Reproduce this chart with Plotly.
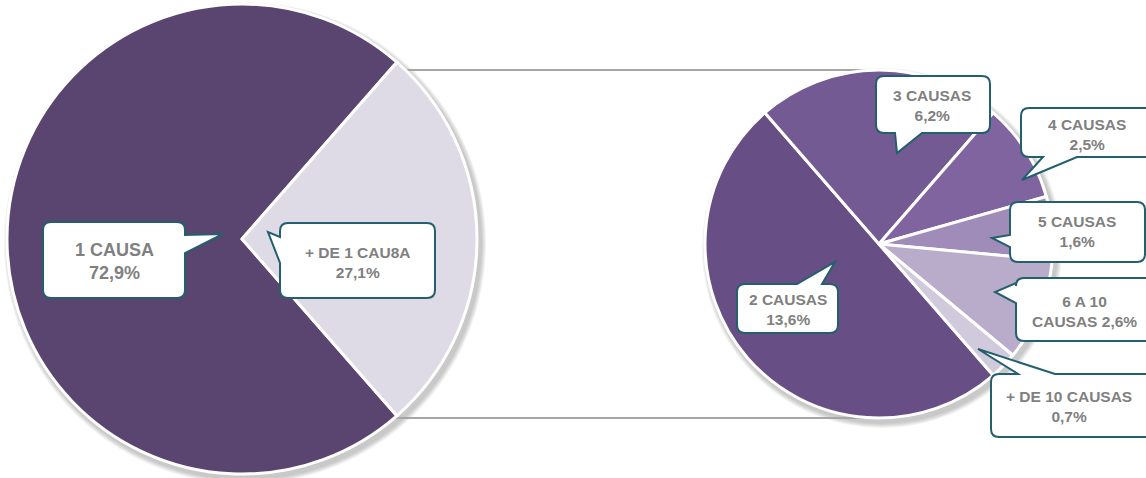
import plotly.graph_objects as go

# ---------------- data ----------------
left_labels = ["1 CAUSA", "+ DE 1 CAU8A"]
left_values = [72.9, 27.1]
left_colors = ["#5a4570", "#dfdbe6"]

right_labels = ["2 CAUSAS", "3 CAUSAS", "4 CAUSAS", "5 CAUSAS", "6 A 10 CAUSAS", "+ DE 10 CAUSAS"]
right_values = [13.6, 6.2, 2.5, 1.6, 2.6, 0.7]
right_colors = ["#674f86", "#735a92", "#8064a0", "#a08cb8", "#b8acca", "#d1cadc"]
# how each label is split over two lines ("{v}" = value)
right_text_fmt = ["2 CAUSAS<br>{v}", "3 CAUSAS<br>{v}", "4 CAUSAS<br>{v}", "5 CAUSAS<br>{v}",
                  "6 A 10<br>CAUSAS {v}", "+ DE 10 CAUSAS<br>{v}"]

W, H = 1146, 478


def fmt(v):
    return f"{v:.1f}".replace(".", ",") + "%"


def px(x):
    return x / W


def py(y):
    return 1 - y / H


# ---------------- pies ----------------
L_cx, L_cy, L_r = 242, 239, 235
R_cx, R_cy, R_r = 879, 244, 174

fig = go.Figure()
left_rot = 90 + left_values[1] / sum(left_values) * 360 / 2
fig.add_trace(go.Pie(
    labels=left_labels, values=left_values, sort=False, direction="clockwise",
    rotation=left_rot, textinfo="none", hoverinfo="label+value",
    marker=dict(colors=left_colors, line=dict(color="white", width=3)),
    domain=dict(x=[px(L_cx - L_r), px(L_cx + L_r)], y=[py(L_cy + L_r), py(L_cy - L_r)]),
    showlegend=False))
fig.add_trace(go.Pie(
    labels=right_labels, values=right_values, sort=False, direction="clockwise",
    rotation=139, textinfo="none", hoverinfo="label+value",
    marker=dict(colors=right_colors, line=dict(color="white", width=3)),
    domain=dict(x=[px(R_cx - R_r), px(R_cx + R_r)], y=[py(R_cy + R_r), py(R_cy - R_r)]),
    showlegend=False))

shapes = []
# soft shadows behind pies
for cx, cy, r in [(L_cx, L_cy, L_r), (R_cx, R_cy, R_r)]:
    for k in range(1, 6):
        rr = r + 1 + k
        shapes.append(dict(type="circle", xref="paper", yref="paper", layer="below",
                           x0=px(cx + 3 - rr), x1=px(cx + 3 + rr),
                           y0=py(cy + 4 + rr), y1=py(cy + 4 - rr),
                           fillcolor="rgba(80,80,80,0.07)", line=dict(width=0)))

# connector lines
for y in (70, 418):
    shapes.append(dict(type="line", xref="paper", yref="paper", layer="below",
                       x0=px(392), x1=px(R_cx), y0=py(y), y1=py(y),
                       line=dict(color="#a6a6a6", width=2)))


def callout(x0, y0, x1, y1, side, ba, bb, tip, r=8):
    tx, ty = tip
    P = lambda x, y: f"{px(x):.5f},{py(y):.5f}"
    d = "M" + P(x0 + r, y0)
    if side == "top":
        d += " L" + P(ba, y0) + " L" + P(tx, ty) + " L" + P(bb, y0)
    d += " L" + P(x1 - r, y0) + " Q" + P(x1, y0) + " " + P(x1, y0 + r)
    if side == "right":
        d += " L" + P(x1, ba) + " L" + P(tx, ty) + " L" + P(x1, bb)
    d += " L" + P(x1, y1 - r) + " Q" + P(x1, y1) + " " + P(x1 - r, y1)
    if side == "bottom":
        d += " L" + P(bb, y1) + " L" + P(tx, ty) + " L" + P(ba, y1)
    d += " L" + P(x0 + r, y1) + " Q" + P(x0, y1) + " " + P(x0, y1 - r)
    if side == "left":
        d += " L" + P(x0, bb) + " L" + P(tx, ty) + " L" + P(x0, ba)
    d += " L" + P(x0, y0 + r) + " Q" + P(x0, y0) + " " + P(x0 + r, y0) + " Z"
    return dict(type="path", xref="paper", yref="paper", layer="above", path=d,
                fillcolor="white", line=dict(color="#245f6e", width=2))


# callout boxes: (box x0,y0,x1,y1, side, base a, base b, tip), text center
left_boxes = [
    ((43, 222, 185, 298, "right", 235, 253, (223, 234)), (114, 261), 18),
    ((280, 223, 435, 298, "left", 237, 263, (268, 232)), (358, 262), 15.5),
]
right_boxes = [
    ((737, 284, 838, 333, "top", 797, 822, (835, 262)), (788, 309)),
    ((876, 76, 990, 133, "bottom", 895, 922, (897, 153)), (932, 106)),
    ((1021, 108, 1153, 157, "bottom", 1043, 1077, (1022, 180)), (1087, 134)),
    ((1010, 202, 1145, 262, "left", 235, 247, (992, 238)), (1077, 232)),
    ((1016, 278, 1153, 341, "left", 283, 303, (995, 292)), (1084, 311)),
    ((991, 374, 1153, 437, "top", 1018, 1055, (978, 349)), (1069, 406)),
]

annotations = []
FONT = "Arial, 'Liberation Sans', sans-serif"
for (box, (tx, ty), fs), lab, v in zip(left_boxes, left_labels, left_values):
    shapes.append(callout(*box))
    annotations.append(dict(xref="paper", yref="paper", x=px(tx), y=py(ty), showarrow=False,
                            xanchor="center", yanchor="middle",
                            text=f"<b>{lab}<br>{fmt(v)}</b>",
                            font=dict(family=FONT, size=fs, color="#808080")))
for (box, (tx, ty)), tf, v in zip(right_boxes, right_text_fmt, right_values):
    shapes.append(callout(*box))
    annotations.append(dict(xref="paper", yref="paper", x=px(tx), y=py(ty), showarrow=False,
                            xanchor="center", yanchor="middle",
                            text="<b>" + tf.format(v=fmt(v)) + "</b>",
                            font=dict(family=FONT, size=15.5, color="#808080")))

fig.update_layout(width=W, height=H, margin=dict(l=0, r=0, t=0, b=0),
                  paper_bgcolor="white", plot_bgcolor="white",
                  shapes=shapes, annotations=annotations)
fig.write_html("out.html", config={"displayModeBar": False},
               post_script="document.body.style.margin='0';")
